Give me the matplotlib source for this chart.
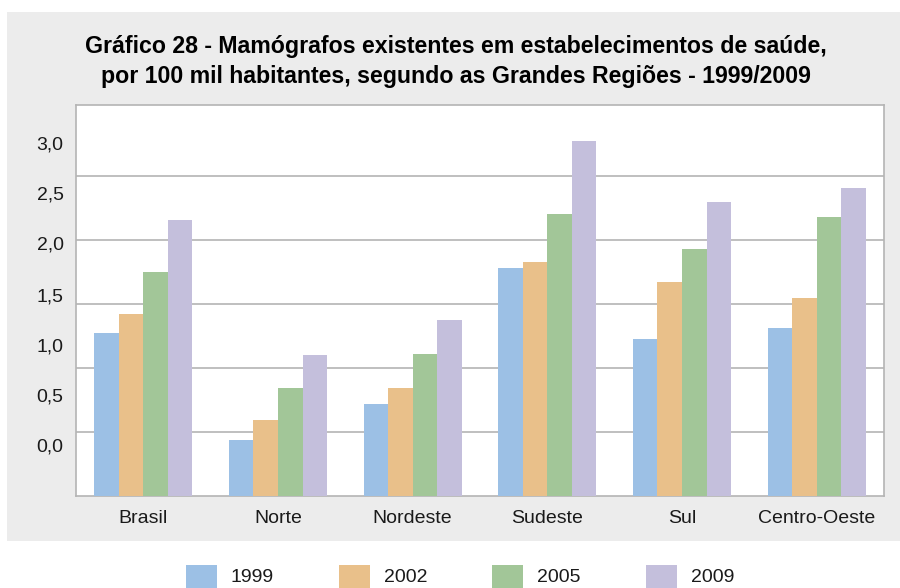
import numpy as np
import matplotlib
matplotlib.use("Agg")
import matplotlib.pyplot as plt
from matplotlib.patches import Rectangle

# Mamógrafos por 100 mil habitantes
regioes = ["Brasil", "Norte", "Nordeste", "Sudeste", "Sul", "Centro-Oeste"]
anos = ["1999", "2002", "2005", "2009"]
v1999 = [1.27, 0.44, 0.72, 1.78, 1.23, 1.31]
v2002 = [1.42, 0.59, 0.84, 1.83, 1.67, 1.55]
v2005 = [1.75, 0.84, 1.11, 2.20, 1.93, 2.18]
v2009 = [2.16, 1.10, 1.375, 2.77, 2.30, 2.41]
series = [v1999, v2002, v2005, v2009]

# rótulos do eixo y como aparecem na publicação
ytick_labels = ["0,0", "0,5", "1,0", "1,5", "2,0", "2,5", "3,0"]
ytick_pos = [0.40, 0.79, 1.18, 1.57, 1.98, 2.37, 2.76]
grid_levels = [0.5, 1.0, 1.5, 2.0, 2.5]

cores = ["#9cc0e5", "#e9c08a", "#a2c698", "#c4bfdc"]
cinza_fundo = "#ececec"
cinza_linha = "#b4b4b4"

plt.rcParams["font.family"] = ["Liberation Sans", "DejaVu Sans"]

fig = plt.figure(figsize=(9, 5.88), dpi=100)
W, H = 900, 588

# painel cinza atrás do gráfico
fig.patches.append(Rectangle((7 / W, 1 - 541 / H), 1, (541 - 12) / H,
                             transform=fig.transFigure, facecolor=cinza_fundo,
                             edgecolor="none", zorder=-10))

ax = fig.add_axes([76 / W, 1 - 496 / H, 808 / W, (496 - 105) / H])
ax.set_facecolor("white")
ax.set_zorder(1)

x = np.arange(len(regioes))
w = 0.182
for k, (vals, cor) in enumerate(zip(series, cores)):
    ax.bar(x + (k - 1.5) * w, vals, width=w, color=cor, zorder=3)

for g in grid_levels:
    ax.axhline(g, color=cinza_linha, lw=1.2, zorder=1)

ax.set_xlim(-0.5, len(regioes) - 0.5)
ax.set_ylim(0, 391 / 128)
ax.set_xticks(x)
ax.set_xticklabels(regioes, fontsize=14)
ax.set_yticks(ytick_pos)
ax.set_yticklabels(ytick_labels, fontsize=14)
ax.tick_params(axis="both", length=0, colors="#1a1a1a")
ax.tick_params(axis="y", pad=9)
ax.tick_params(axis="x", pad=10)
for s in ax.spines.values():
    s.set_color(cinza_linha)
    s.set_linewidth(1.2)

fig.text(456 / W, 1 - 46 / H,
         "Gráfico 28 - Mamógrafos existentes em estabelecimentos de saúde,",
         ha="center", va="center", fontsize=16.7, fontweight="bold")
fig.text(456 / W, 1 - 76 / H,
         "por 100 mil habitantes, segundo as Grandes Regiões - 1999/2009",
         ha="center", va="center", fontsize=16.7, fontweight="bold")

# legenda
leg_x = [186, 339, 492, 646]
for ano, cor, lx in zip(anos, cores, leg_x):
    fig.patches.append(Rectangle((lx / W, 1 - 596 / H), 31 / W, 31 / H,
                                 transform=fig.transFigure, facecolor=cor,
                                 edgecolor="none"))
    fig.text((lx + 45) / W, 1 - 578 / H, ano, ha="left", va="center",
             fontsize=14, color="#1a1a1a")

fig.savefig("out.png", dpi=100)
